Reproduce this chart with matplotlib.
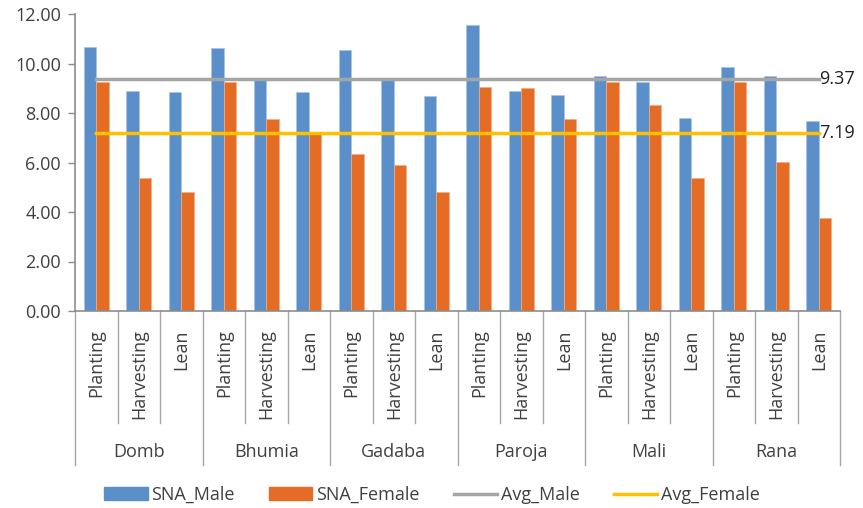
import numpy as np
import matplotlib
matplotlib.use('Agg')
import matplotlib.pyplot as plt
import matplotlib.transforms as mtransforms
from matplotlib.patches import Patch
from matplotlib.lines import Line2D

plt.rcParams['font.family'] = ['Open Sans', 'DejaVu Sans']

# datos
groups = ['Domb', 'Bhumia', 'Gadaba', 'Paroja', 'Mali', 'Rana']
seasons = ['Planting', 'Harvesting', 'Lean']
sna_male = [10.68, 8.88, 8.84,
            10.64, 9.33, 8.86,
            10.56, 9.33, 8.70,
            11.54, 8.88, 8.71,
            9.49, 9.25, 7.80,
            9.86, 9.49, 7.66]
sna_female = [9.25, 5.39, 4.81,
              9.25, 7.74, 7.15,
              6.34, 5.90, 4.80,
              9.05, 9.00, 7.77,
              9.25, 8.31, 5.36,
              9.25, 6.01, 3.77]
avg_male = 9.37
avg_female = 7.19

c_male = '#5B8FCA'
c_female = '#E46C25'
c_avgm = '#A5A5A5'
c_avgf = '#FFC000'
c_axis = '#8C8C8C'
c_text = '#404040'

W, H = 863, 508
fig = plt.figure(figsize=(W / 100, H / 100), dpi=100)
# ejes en pixeles: x 75..840, y 14..311
ax = fig.add_axes([75 / W, (H - 311) / H, (840 - 75) / W, (311 - 14) / H])

n = len(sna_male)
x = np.arange(n)
bw = 0.29
ax.bar(x - bw / 2, sna_male, bw, color=c_male, edgecolor='#A9C4E6', linewidth=0.5, zorder=2)
ax.bar(x + bw / 2, sna_female, bw, color=c_female, edgecolor='#F2AE88', linewidth=0.5, zorder=2)

ax.plot(x, [avg_male] * n, color=c_avgm, linewidth=2.5, zorder=3)
ax.plot(x, [avg_female] * n, color=c_avgf, linewidth=2.5, zorder=3)
ax.text(x[-1] + 0.02, avg_male, f'{avg_male:.2f}', va='center', ha='left',
        fontsize=13, color='#202020', clip_on=False)
ax.text(x[-1] + 0.02, avg_female, f'{avg_female:.2f}', va='center', ha='left',
        fontsize=13, color='#202020', clip_on=False)

ax.set_xlim(-0.5, n - 0.5)
ax.set_ylim(0, 12)
ax.set_yticks(np.arange(0, 12.01, 2))
ax.set_yticklabels([f'{v:.2f}' for v in np.arange(0, 12.01, 2)])
ax.tick_params(axis='y', direction='out', length=5, width=1, color=c_axis,
               labelsize=13, labelcolor=c_text, pad=5)
ax.set_xticks([])

for s in ['top', 'right']:
    ax.spines[s].set_visible(False)
for s in ['left', 'bottom']:
    ax.spines[s].set_color(c_axis)
    ax.spines[s].set_linewidth(1.2)

# eje de categorias en dos niveles
trans = mtransforms.blended_transform_factory(ax.transData, ax.transAxes)
y_short = -(423 - 311) / 297
y_long = -(465 - 311) / 297
for i in range(n + 1):
    b = i - 0.5
    yend = y_long if i % 3 == 0 else y_short
    ax.add_line(Line2D([b, b], [0, yend], transform=trans, color='#A6A6A6',
                       linewidth=1, clip_on=False))

for i in range(n):
    ax.text(i, -(329 - 311) / 297, seasons[i % 3], rotation=90, ha='center', va='top',
            fontsize=13, color=c_text, transform=trans)
for g, name in enumerate(groups):
    ax.text(g * 3 + 1, -(452 - 311) / 297, name, ha='center', va='center',
            fontsize=13, color=c_text, transform=trans)

handles = [Patch(color=c_male), Patch(color=c_female),
           Line2D([], [], color=c_avgm, linewidth=2.5),
           Line2D([], [], color=c_avgf, linewidth=2.5)]
labels = ['SNA_Male', 'SNA_Female', 'Avg_Male', 'Avg_Female']
fig.legend(handles, labels, loc='center', bbox_to_anchor=(432 / W, (H - 495) / H),
           ncol=4, frameon=False, fontsize=13, handlelength=2.4, handleheight=0.7,
           handletextpad=0.2, columnspacing=1.9, labelcolor=c_text)

fig.savefig('out.png', dpi=100)
